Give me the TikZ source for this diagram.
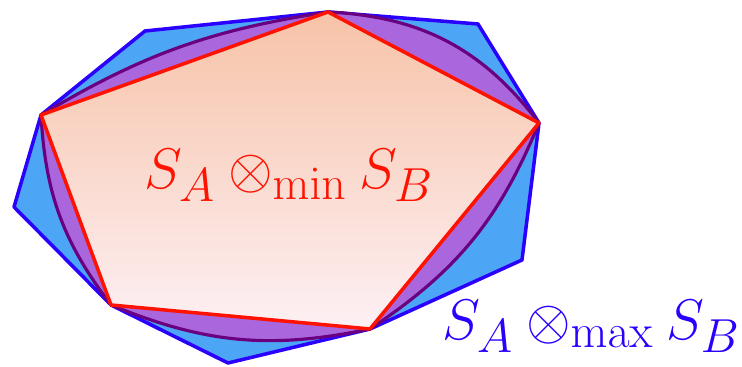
\documentclass[tikz,border=0pt]{standalone}
\usepackage{graphicx}
\usepackage{xcolor}
\usepackage{tikz}
\definecolor{MaxLine}{HTML}{2A00FF}
\definecolor{MaxFill}{HTML}{4DA6F5}
\definecolor{MidLine}{HTML}{6A0080}
\definecolor{MidFill}{HTML}{AA66DD}
\definecolor{MinLine}{HTML}{FF1200}
\definecolor{MinTop}{HTML}{F7C3A8}
\definecolor{MinBottom}{HTML}{FDF0F4}
\begin{document}
\begin{tikzpicture}[x=1cm,y=1cm]
\path[use as bounding box] (0,0) rectangle (14.84,7.34);
\coordinate (R1) at (6.56,7.10);
\coordinate (R2) at (0.82,5.04);
\coordinate (R3) at (2.22,1.24);
\coordinate (R4) at (7.40,0.76);
\coordinate (R5) at (10.78,4.88);
% outer polygon
\filldraw[fill=MaxFill,draw=MaxLine,line width=2pt,line join=round]
  (R1) -- (9.56,6.86) -- (R5) -- (10.44,2.14) -- (R4) -- (4.56,0.08)
  -- (R3) -- (0.28,3.20) -- (R2) -- (2.90,6.72) -- cycle;
% curved body
\filldraw[fill=MidFill,draw=MidLine,line width=1.8pt,line join=round]
  (R1) to[bend left=25] (R5) to[bend left=17] (R4) to[bend left=17] (R3)
  to[bend left=17] (R2) to[bend left=11] (R1) -- cycle;
% inner pentagon
\shadedraw[top color=MinTop,bottom color=MinBottom,draw=MinLine,line width=2pt,line join=round]
  (R1) -- (R5) -- (R4) -- (R3) -- (R2) -- cycle;
\node[text=MinLine] (minlabel) at (5.78,3.84) {\scalebox{1.31}{\Huge$S_A\otimes_{\min}S_B$}};
\node[text=MaxLine,anchor=east,inner sep=1pt] (maxlabel) at (14.84,0.82) {\scalebox{1.31}{\Huge$S_A\otimes_{\max}S_B$}};
\end{tikzpicture}
\end{document}
